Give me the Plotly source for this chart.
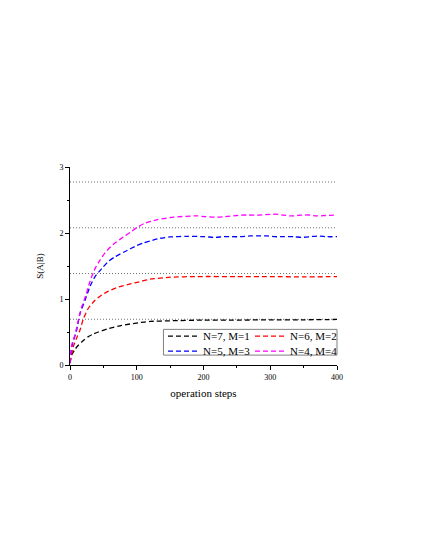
import plotly.graph_objects as go

# ---- data ----
x_black = [0, 2.5, 7, 12.5, 20, 27.5, 35, 42.5, 57.5, 77.5, 102.5, 120, 150, 200, 250, 300, 350, 400]
y_black = [0.03, 0.15, 0.23, 0.30, 0.37, 0.43, 0.47, 0.50, 0.55, 0.60, 0.64, 0.66, 0.67, 0.68, 0.68, 0.685, 0.685, 0.69]

x_red = [0, 5, 10, 15, 20, 27.5, 37.5, 47.5, 57.5, 72.5, 87.5, 107.5, 120, 150, 190, 250, 300, 350, 400]
y_red = [0.03, 0.28, 0.41, 0.53, 0.70, 0.86, 0.98, 1.06, 1.12, 1.18, 1.22, 1.27, 1.30, 1.33, 1.34, 1.34, 1.34, 1.335, 1.34]

x_blue = [0, 2.5, 10, 15, 22.5, 30, 37.5, 47.5, 57.5, 67.5, 82.5, 100, 110, 120, 135, 150, 175, 202, 217, 230, 242, 255, 270,
          282, 295, 307, 320, 335, 347, 360, 372, 385, 400]
y_blue = [0.03, 0.27, 0.53, 0.78, 0.98, 1.19, 1.34, 1.46, 1.57, 1.64, 1.72, 1.81, 1.85, 1.88, 1.92, 1.94, 1.95, 1.944, 1.934,
          1.944, 1.944, 1.944, 1.955, 1.955, 1.955, 1.944, 1.944, 1.944, 1.934, 1.944, 1.955, 1.944, 1.944]

x_mag = [0, 2.5, 7.5, 12.5, 17.5, 23.5, 30, 37.5, 45, 52.5, 65, 80, 90, 100, 112.5, 130, 155, 190, 202.5, 217.5, 230, 242.5,
         255, 267.5, 280, 292.5, 307.5, 320, 332.5, 345, 357.5, 370, 382.5, 395, 400]
y_mag = [0.03, 0.30, 0.46, 0.68, 0.88, 1.05, 1.27, 1.46, 1.59, 1.70, 1.83, 1.94, 2.01, 2.08, 2.15, 2.20, 2.24, 2.26, 2.247,
         2.24, 2.247, 2.258, 2.27, 2.273, 2.27, 2.277, 2.285, 2.27, 2.258, 2.27, 2.273, 2.258, 2.265, 2.27, 2.27]

ref_levels = [0.693, 1.386, 2.079, 2.773]   # ln2, ln4, ln8, ln16
ref_x = [0, 400]

series = [
    ("N=7, M=1", x_black, y_black, "#000000", "legend"),
    ("N=6, M=2", x_red, y_red, "#ff0000", "legend"),
    ("N=5, M=3", x_blue, y_blue, "#0000ff", "legend2"),
    ("N=4, M=4", x_mag, y_mag, "#ff00ff", "legend2"),
]

FONT = "Liberation Serif, Times New Roman, DejaVu Serif, serif"

fig = go.Figure()

for lvl in ref_levels:
    fig.add_trace(go.Scatter(
        x=ref_x, y=[lvl, lvl], mode="lines", showlegend=False, hoverinfo="skip",
        line=dict(color="#707070", width=1, dash="1px,2px"),
    ))

for name, xs, ys, col, lg in series:
    fig.add_trace(go.Scatter(
        x=xs, y=ys, mode="lines", name=name, legend=lg,
        line=dict(color=col, width=1.3, dash="5px,3px", shape="spline", smoothing=0.6),
    ))

axis_common = dict(
    showgrid=False, zeroline=False, showline=True, linecolor="black", linewidth=1,
    ticks="outside", ticklen=4, tickwidth=1, tickcolor="black",
    tickfont=dict(family=FONT, size=8, color="black"),
    minor=dict(ticks="outside", ticklen=2, tickwidth=1, tickcolor="black", showgrid=False),
)

fig.update_layout(
    width=426, height=550,
    margin=dict(l=62, r=97, t=159, b=193),
    paper_bgcolor="white", plot_bgcolor="white",
    font=dict(family=FONT, color="black"),
    xaxis=dict(range=[0, 400], tickvals=[0, 100, 200, 300, 400], **axis_common,
               title=dict(text="operation steps", font=dict(family=FONT, size=11), standoff=8)),
    yaxis=dict(range=[0, 3], tickvals=[0, 1, 2, 3], **axis_common,
               title=dict(text="S(A|B)", font=dict(family=FONT, size=9), standoff=14)),
    legend=dict(orientation="h", x=1, xanchor="right", y=0.146, yanchor="middle",
                entrywidth=42, bgcolor="rgba(0,0,0,0)", borderwidth=0,
                font=dict(family=FONT, size=11), tracegroupgap=0),
    legend2=dict(orientation="h", x=1, xanchor="right", y=0.07, yanchor="middle",
                 entrywidth=42, bgcolor="rgba(0,0,0,0)", borderwidth=0,
                 font=dict(family=FONT, size=11), tracegroupgap=0),
    shapes=[dict(type="rect", xref="paper", yref="paper", x0=0.35, x1=1.0, y0=0.05, y1=0.18,
                 line=dict(color="#808080", width=1), fillcolor="rgba(0,0,0,0)")],
)
fig.update_xaxes(minor_dtick=50)
fig.update_yaxes(minor_dtick=0.5)

fig.write_html("out.html")
